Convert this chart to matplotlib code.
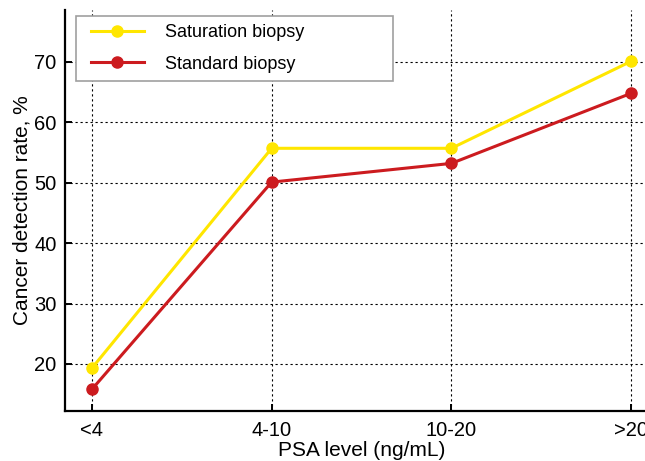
import matplotlib
matplotlib.use("Agg")
import matplotlib.pyplot as plt
from matplotlib.lines import Line2D
from matplotlib.legend_handler import HandlerLine2D

categories = ["<4", "4-10", "10-20", ">20"]
saturation = [19.3, 55.7, 55.7, 70.1]
standard = [15.8, 50.1, 53.2, 64.8]

plt.rcParams['font.family'] = ['Liberation Sans', 'DejaVu Sans']

fig = plt.figure(figsize=(6.45, 4.61), dpi=100)
W, H = 645, 461
x0, x1 = 65, 658
y0, y1 = 411, 10
ax = fig.add_axes([x0 / W, 1 - y0 / H, (x1 - x0) / W, (y0 - y1) / H])

xs = list(range(len(categories)))
ax.plot(xs, saturation, color="#FFE600", lw=2.2, marker="o", ms=8, label="Saturation biopsy", clip_on=False, zorder=3)
ax.plot(xs, standard, color="#CC1B1F", lw=2.2, marker="o", ms=8, label="Standard biopsy", clip_on=False, zorder=3)

ax.set_xlim(-0.15, 3.15)
ax.set_ylim(12.2, 78.6)
ax.set_xticks(xs)
ax.set_xticklabels(categories)
ax.set_yticks([20, 30, 40, 50, 60, 70])
ax.grid(True, color="black", linestyle=(0, (2, 2.5)), linewidth=0.8)
ax.set_axisbelow(True)
for s in ["top", "right"]:
    ax.spines[s].set_visible(False)
ax.spines["left"].set_linewidth(1.6)
ax.spines["bottom"].set_linewidth(1.6)
ax.tick_params(axis="both", labelsize=14.5, direction="in", length=5, width=1.4)
ax.tick_params(axis="y", pad=6)
ax.tick_params(axis="x", pad=7)
ax.set_xlabel("PSA level (ng/mL)", fontsize=15, labelpad=1)
ax.set_ylabel("Cancer detection rate, %", fontsize=15)
ax.yaxis.set_label_coords((31 - x0) / (x1 - x0), 0.5)

leg = ax.legend(loc="upper left", bbox_to_anchor=(76 / W, 1 - 16 / H, (393 - 76) / W, 0.0),
                bbox_transform=fig.transFigure, mode="expand", fontsize=13,
                handlelength=3.3, handletextpad=1.2, labelspacing=0.8,
                borderpad=0.45, fancybox=False, framealpha=1, edgecolor="#A0A0A0",
                borderaxespad=0, handler_map={Line2D: HandlerLine2D(xpad=0.36)})
leg.get_frame().set_linewidth(1.2)

fig.savefig("out.png", dpi=100)
